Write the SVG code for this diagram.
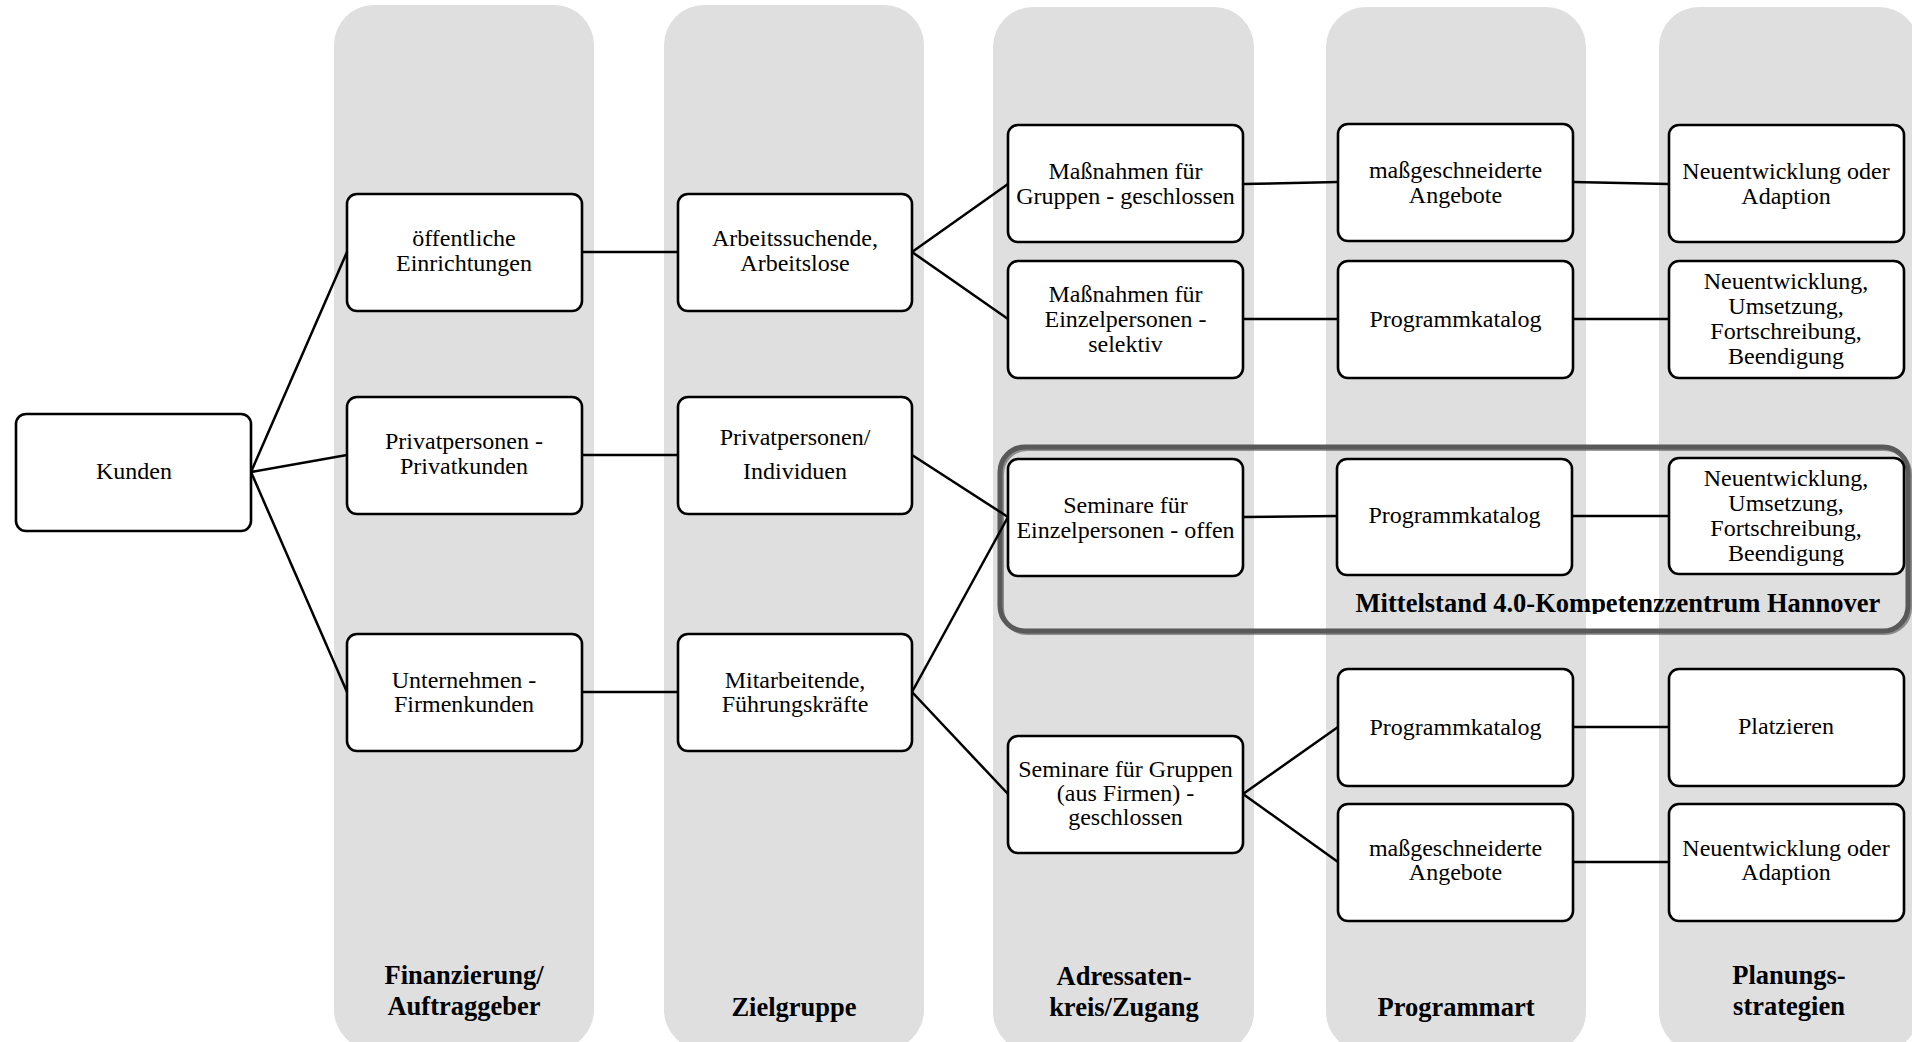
<svg xmlns="http://www.w3.org/2000/svg" width="1912" height="1042" viewBox="0 0 1912 1042">
<defs>
<style>
.band{fill:#dfdfdf}
.box{fill:#fff;stroke:#000;stroke-width:2.6}
.t{font-family:"Liberation Serif","Times New Roman",serif;font-size:24px;fill:#000;text-anchor:middle}
.h{font-family:"Liberation Serif","Times New Roman",serif;font-size:26.5px;font-weight:bold;fill:#000;text-anchor:middle}
.c{stroke:#000;stroke-width:2.5;fill:none}
.frame{fill:none;stroke:#595959;stroke-width:5}
</style>
<clipPath id="mclip"><rect x="1300" y="580" width="612" height="34"/></clipPath>
</defs>
<rect width="1912" height="1042" fill="#fff"/>
<g id="bands">
<rect class="band" x="334" y="5" width="260" height="1045" rx="40"/>
<rect class="band" x="664" y="5" width="260" height="1045" rx="40"/>
<rect class="band" x="993" y="7" width="261" height="1045" rx="40"/>
<rect class="band" x="1326" y="7" width="260" height="1045" rx="40"/>
<rect class="band" x="1659" y="7" width="260" height="1045" rx="40"/>
</g>
<g id="headers">
<text class="h" x="464" y="984">Finanzierung/</text>
<text class="h" x="464" y="1015">Auftraggeber</text>
<text class="h" x="794" y="1016">Zielgruppe</text>
<text class="h" x="1124" y="985">Adressaten-</text>
<text class="h" x="1124" y="1016">kreis/Zugang</text>
<text class="h" x="1456" y="1016">Programmart</text>
<text class="h" x="1789" y="984">Planungs-</text>
<text class="h" x="1789" y="1015">strategien</text>
</g>
<g id="mittelstand">
<rect x="1002" y="449" width="908" height="184" rx="25" fill="none" stroke="#3a3a3a" stroke-width="4" opacity="0.5"/>
<rect class="frame" x="1000" y="447" width="908" height="184" rx="25"/>
<text class="h" x="1618" y="611.5" clip-path="url(#mclip)">Mittelstand 4.0-Kompetenzzentrum Hannover</text>
</g>
<g id="connectors">
<line class="c" x1="251" y1="472" x2="347" y2="252"/>
<line class="c" x1="251" y1="472" x2="347" y2="455"/>
<line class="c" x1="251" y1="472" x2="347" y2="692"/>
<line class="c" x1="582" y1="252" x2="678" y2="252"/>
<line class="c" x1="582" y1="455" x2="678" y2="455"/>
<line class="c" x1="582" y1="692" x2="678" y2="692"/>
<line class="c" x1="912" y1="252" x2="1008" y2="184"/>
<line class="c" x1="912" y1="252" x2="1008" y2="319"/>
<line class="c" x1="912" y1="455" x2="1008" y2="517"/>
<line class="c" x1="912" y1="692" x2="1008" y2="517"/>
<line class="c" x1="912" y1="692" x2="1008" y2="794"/>
<line class="c" x1="1243" y1="184" x2="1338" y2="182"/>
<line class="c" x1="1243" y1="319" x2="1338" y2="319"/>
<line class="c" x1="1243" y1="517" x2="1338" y2="516"/>
<line class="c" x1="1243" y1="794" x2="1338" y2="727"/>
<line class="c" x1="1243" y1="794" x2="1338" y2="862"/>
<line class="c" x1="1573" y1="182" x2="1669" y2="184"/>
<line class="c" x1="1573" y1="319" x2="1669" y2="319"/>
<line class="c" x1="1573" y1="516" x2="1669" y2="516"/>
<line class="c" x1="1573" y1="727" x2="1669" y2="727"/>
<line class="c" x1="1573" y1="862" x2="1669" y2="862"/>
</g>
<g id="kunden"><rect class="box" x="16" y="414" width="235" height="117" rx="10"/><text class="t" x="134" y="479">Kunden</text></g>
<g id="oeffentliche"><rect class="box" x="347" y="194" width="235" height="117" rx="10"/><text class="t" x="464" y="246">öffentliche</text><text class="t" x="464" y="271">Einrichtungen</text></g>
<g id="privatkunden"><rect class="box" x="347" y="397" width="235" height="117" rx="10"/><text class="t" x="464" y="449">Privatpersonen -</text><text class="t" x="464" y="474">Privatkunden</text></g>
<g id="firmenkunden"><rect class="box" x="347" y="634" width="235" height="117" rx="10"/><text class="t" x="464" y="688">Unternehmen -</text><text class="t" x="464" y="712">Firmenkunden</text></g>
<g id="arbeitssuchende"><rect class="box" x="678" y="194" width="234" height="117" rx="10"/><text class="t" x="795" y="246">Arbeitssuchende,</text><text class="t" x="795" y="271">Arbeitslose</text></g>
<g id="individuen"><rect class="box" x="678" y="397" width="234" height="117" rx="10"/><text class="t" x="795" y="445">Privatpersonen/</text><text class="t" x="795" y="478.5">Individuen</text></g>
<g id="mitarbeitende"><rect class="box" x="678" y="634" width="234" height="117" rx="10"/><text class="t" x="795" y="688">Mitarbeitende,</text><text class="t" x="795" y="712">Führungskräfte</text></g>
<g id="massnahmen-gruppen"><rect class="box" x="1008" y="125" width="235" height="117" rx="10"/><text class="t" x="1125.5" y="178.5">Maßnahmen für</text><text class="t" x="1125.5" y="203.5">Gruppen - geschlossen</text></g>
<g id="massnahmen-einzel"><rect class="box" x="1008" y="261" width="235" height="117" rx="10"/><text class="t" x="1125.5" y="301.5">Maßnahmen für</text><text class="t" x="1125.5" y="326.5">Einzelpersonen -</text><text class="t" x="1125.5" y="351.5">selektiv</text></g>
<g id="seminare-einzel"><rect class="box" x="1008" y="459" width="235" height="117" rx="10"/><text class="t" x="1125.5" y="512.5">Seminare für</text><text class="t" x="1125.5" y="537.5">Einzelpersonen - offen</text></g>
<g id="seminare-gruppen"><rect class="box" x="1008" y="736" width="235" height="117" rx="10"/><text class="t" x="1125.5" y="776.5">Seminare für Gruppen</text><text class="t" x="1125.5" y="801">(aus Firmen) -</text><text class="t" x="1125.5" y="825">geschlossen</text></g>
<g id="massgeschneiderte-1"><rect class="box" x="1338" y="124" width="235" height="117" rx="10"/><text class="t" x="1455.5" y="177.5">maßgeschneiderte</text><text class="t" x="1455.5" y="202.5">Angebote</text></g>
<g id="programmkatalog-1"><rect class="box" x="1338" y="261" width="235" height="117" rx="10"/><text class="t" x="1455.5" y="327">Programmkatalog</text></g>
<g id="programmkatalog-2"><rect class="box" x="1337" y="459" width="235" height="116" rx="10"/><text class="t" x="1454.5" y="523">Programmkatalog</text></g>
<g id="programmkatalog-3"><rect class="box" x="1338" y="669" width="235" height="117" rx="10"/><text class="t" x="1455.5" y="735">Programmkatalog</text></g>
<g id="massgeschneiderte-2"><rect class="box" x="1338" y="804" width="235" height="117" rx="10"/><text class="t" x="1455.5" y="856">maßgeschneiderte</text><text class="t" x="1455.5" y="880">Angebote</text></g>
<g id="neuentwicklung-adaption-1"><rect class="box" x="1669" y="125" width="235" height="117" rx="10"/><text class="t" x="1786" y="178.5">Neuentwicklung oder</text><text class="t" x="1786" y="203.5">Adaption</text></g>
<g id="neuentwicklung-umsetzung-1"><rect class="box" x="1669" y="261" width="235" height="117" rx="10"/><text class="t" x="1786" y="289">Neuentwicklung,</text><text class="t" x="1786" y="314">Umsetzung,</text><text class="t" x="1786" y="339">Fortschreibung,</text><text class="t" x="1786" y="364">Beendigung</text></g>
<g id="neuentwicklung-umsetzung-2"><rect class="box" x="1669" y="458" width="235" height="116" rx="10"/><text class="t" x="1786" y="486">Neuentwicklung,</text><text class="t" x="1786" y="511">Umsetzung,</text><text class="t" x="1786" y="536">Fortschreibung,</text><text class="t" x="1786" y="561">Beendigung</text></g>
<g id="platzieren"><rect class="box" x="1669" y="669" width="235" height="117" rx="10"/><text class="t" x="1786" y="734">Platzieren</text></g>
<g id="neuentwicklung-adaption-2"><rect class="box" x="1669" y="804" width="235" height="117" rx="10"/><text class="t" x="1786" y="856">Neuentwicklung oder</text><text class="t" x="1786" y="880">Adaption</text></g>
</svg>
